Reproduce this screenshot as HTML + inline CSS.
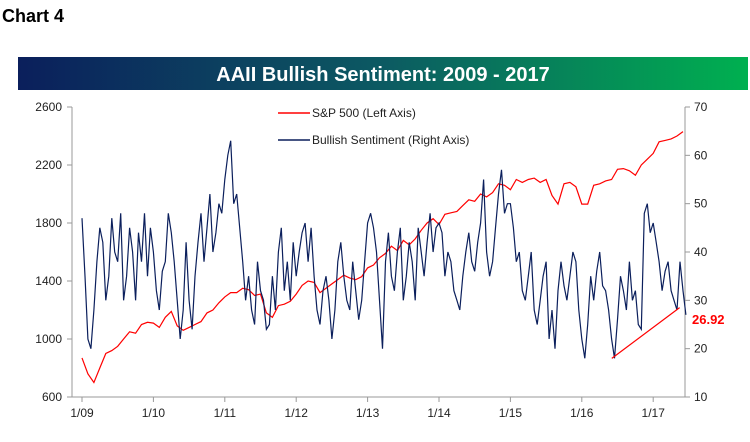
<!DOCTYPE html>
<html><head><meta charset="utf-8"><style>
body{margin:0;background:#fff;width:750px;height:437px;overflow:hidden;font-family:"Liberation Sans",sans-serif}
</style></head><body>
<svg width="750" height="437" xmlns="http://www.w3.org/2000/svg">
<defs><linearGradient id="g" x1="0" x2="1"><stop offset="0" stop-color="#0b1f5c"/><stop offset="0.5" stop-color="#0c5a62"/><stop offset="1" stop-color="#00b050"/></linearGradient></defs>
<text x="2" y="22" font-size="18" font-weight="bold" fill="#000">Chart 4</text>
<rect x="18" y="57" width="730" height="33" fill="url(#g)"/>
<text x="383" y="81" font-size="20" font-weight="bold" fill="#fff" text-anchor="middle">AAII Bullish Sentiment: 2009 - 2017</text>
<g id="axes" stroke="#999" stroke-width="1"></g>
<g id="ticks" font-size="12" fill="#222"></g>
<g id="series"></g>
<line x1="278" y1="113" x2="310" y2="113" stroke="#f00" stroke-width="1.5"/>
<text x="312" y="117" font-size="12" fill="#222">S&amp;P 500 (Left Axis)</text>
<line x1="278" y1="140" x2="310" y2="140" stroke="#0b1f5c" stroke-width="1.5"/>
<text x="312" y="144" font-size="12" fill="#222">Bullish Sentiment (Right Axis)</text>
<text x="692" y="324" font-size="13" font-weight="bold" fill="#f00">26.92</text>
</svg>
<script>
const xLabels=["1/09","1/10","1/11","1/12","1/13","1/14","1/15","1/16","1/17"];
const leftTicks=[600,1000,1400,1800,2200,2600];
const rightTicks=[10,20,30,40,50,60,70];
const sp500=[870,760,700,800,900,920,950,1000,1050,1040,1100,1115,
1110,1080,1150,1190,1090,1060,1080,1100,1120,1180,1200,1250,
1290,1320,1320,1350,1340,1300,1310,1180,1150,1230,1240,1260,
1310,1370,1400,1390,1320,1350,1380,1410,1440,1420,1410,1430,
1490,1510,1560,1590,1640,1610,1680,1650,1690,1750,1800,1830,
1790,1860,1870,1880,1920,1960,1950,2000,1980,2010,2070,2060,
2030,2100,2080,2100,2110,2080,2100,1990,1930,2070,2080,2050,
1930,1930,2060,2070,2090,2100,2170,2175,2160,2130,2200,2240,
2280,2360,2370,2380,2400,2430];
const sentiment=[47,35,22,20,28,38,45,42,30,35,47,40,38,48,30,35,45,40,30,44,38,48,35,45,
40,32,28,36,38,48,44,38,30,22,28,42,30,24,35,42,48,38,45,52,40,44,50,48,
55,60,63,50,52,45,38,30,35,28,25,38,32,30,24,25,35,28,40,45,32,38,30,42,
35,40,44,46,38,45,35,28,25,32,35,30,22,28,38,42,35,30,28,38,32,26,30,38,
46,48,45,40,30,20,38,44,35,32,40,45,30,35,42,38,30,45,40,35,42,48,40,45,
46,44,35,40,38,32,30,28,35,40,44,38,36,42,46,55,40,35,38,45,52,57,48,50,
50,45,38,40,32,30,35,40,28,25,30,35,38,22,28,20,32,38,33,30,35,40,38,28,
22,18,25,35,30,36,40,33,32,28,22,18,26,35,32,28,38,30,32,25,24,48,50,44,
46,42,38,32,36,38,32,30,28,38,32,27];
const trendStart=[2016.42,18];const trendEnd=[2017.37,28.5];
const NS="http://www.w3.org/2000/svg";
const X0=72,X1=685,Y0=397,Y1=107;
const xs=t=>82+(t-2009)*71.4;
const yl=v=>Y0-(v-600)/2000*(Y0-Y1);
const yr=v=>Y0-(v-10)/60*(Y0-Y1);
function mk(tag,at,parent){const e=document.createElementNS(NS,tag);for(const k in at)e.setAttribute(k,at[k]);parent.appendChild(e);return e;}
const ax=document.getElementById('axes'),tk=document.getElementById('ticks'),se=document.getElementById('series');
let a=mk('line',{x1:X0,y1:Y1,x2:X0,y2:Y0},ax);


a=mk('line',{x1:X1,y1:Y1,x2:X1,y2:Y0},ax);


a=mk('line',{x1:X0,y1:Y0,x2:X1,y2:Y0},ax);


leftTicks.forEach(v=>{mk('line',{x1:X0-5,y1:yl(v),x2:X0,y2:yl(v)},ax);
const t=mk('text',{x:X0-10,y:yl(v)+4,'text-anchor':'end'},tk);t.textContent=v;

});
rightTicks.forEach(v=>{mk('line',{x1:X1,y1:yr(v),x2:X1+5,y2:yr(v)},ax);
const t=mk('text',{x:X1+9,y:yr(v)+4},tk);t.textContent=v;

});
xLabels.forEach((s,i)=>{const x=xs(2009+i);mk('line',{x1:x,y1:Y0,x2:x,y2:Y0+5},ax);
const t=mk('text',{x:x,y:Y0+20,'text-anchor':'middle'},tk);t.textContent=s;

});
let p=sp500.map((v,i)=>xs(2009+i/12).toFixed(1)+','+yl(v).toFixed(1)).join(' ');
let l=mk('polyline',{points:p,fill:'none',stroke:'#f00','stroke-width':1.2},se);


p=sentiment.map((v,i)=>xs(2009+i/24).toFixed(1)+','+yr(v).toFixed(1)).join(' ');
l=mk('polyline',{points:p,fill:'none',stroke:'#0b1f5c','stroke-width':1.2},se);


l=mk('line',{x1:xs(trendStart[0]),y1:yr(trendStart[1]),x2:xs(trendEnd[0]),y2:yr(trendEnd[1]),stroke:'#f00','stroke-width':1.2},se);


</script>
</body></html>
